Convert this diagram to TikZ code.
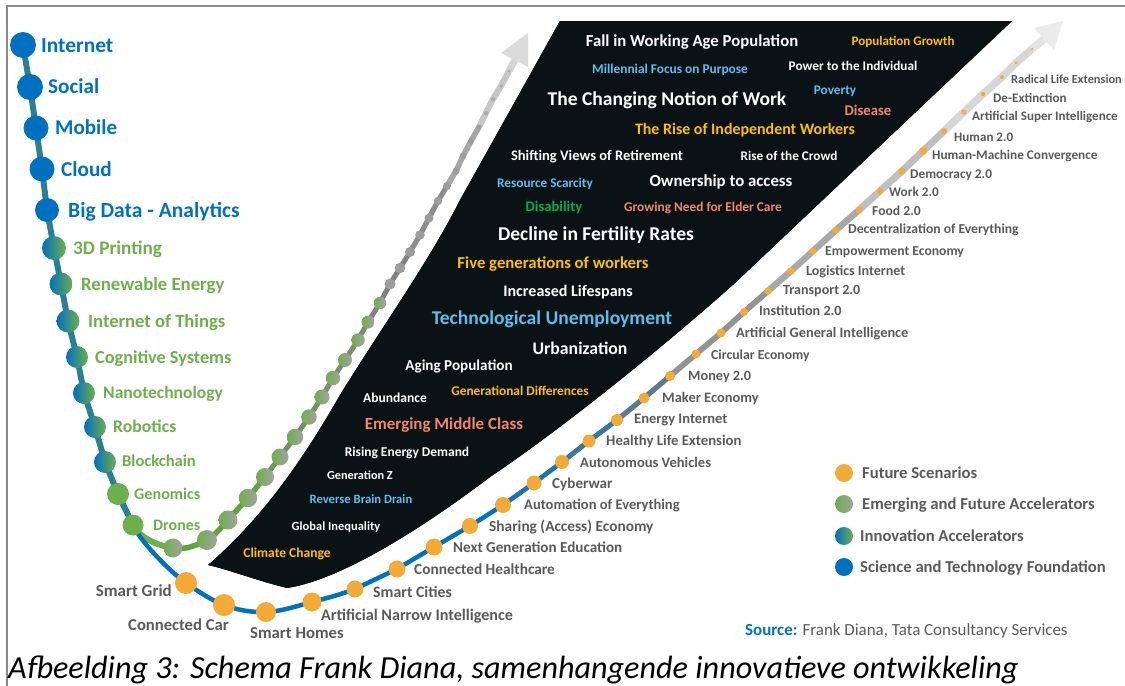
\documentclass[tikz,border=0pt]{standalone}
\usepackage{fontspec}
\setmainfont{Carlito}
\usetikzlibrary{backgrounds}
\definecolor{innblue}{HTML}{0070C0}
\definecolor{inngreen}{HTML}{6DAF4B}
\definecolor{futorange}{HTML}{F4AA36}
\definecolor{emgrey}{HTML}{A3A3A3}
\definecolor{emdark}{HTML}{9C9C9C}
\definecolor{emlight}{HTML}{AAAAAA}
\definecolor{labgrey}{HTML}{595959}
\definecolor{chainteal}{HTML}{2B7F95}
\definecolor{txtgold}{HTML}{FFC000}
\definecolor{txtsky}{HTML}{5BC0EE}
\definecolor{txtsalmon}{HTML}{F3876A}
\definecolor{txtgreen}{HTML}{00B050}
\definecolor{darktop}{HTML}{0B1216}
\definecolor{darkmid}{HTML}{1E2B38}
\definecolor{framegrey}{HTML}{8A8A8A}
\tikzset{
  futdot/.style={circle,inner sep=0pt,draw=none,fill=futorange,minimum size=#1},
  inndot/.style={circle,inner sep=0pt,draw=none,fill=innblue,minimum size=#1},
  mixdot/.style={circle,inner sep=0pt,draw=none,left color=innblue,middle color=innblue!50!inngreen,right color=inngreen,minimum size=#1},
  grndot/.style={circle,inner sep=0pt,draw=none,fill=inngreen,minimum size=#1},
  emgdot/.style={circle,inner sep=0pt,draw=none,left color=inngreen,right color=emgrey,minimum size=#1},
  grydot/.style={circle,inner sep=0pt,draw=none,fill=emdark,minimum size=#1},
  lgtdot/.style={circle,inner sep=0pt,draw=none,fill=emlight,minimum size=#1},
  lbl/.code={\pgfmathsetlengthmacro\lblht{0.66*#1bp}\tikzset{inner sep=0pt,text height=\lblht,text depth=0pt,font=\bfseries\fontsize{#1}{#1}\selectfont}},
  futlbl/.style={lbl=#1,anchor=west,text=labgrey},
  innlbl/.style={lbl=#1,anchor=west,text=innblue},
  grnlbl/.style={lbl=#1,anchor=west,text=inngreen},
}
\begin{document}
\begin{tikzpicture}[>=latex,line join=bevel,yscale=-1]
\useasboundingbox (0bp,0bp) rectangle (1125bp,686bp);
\draw [framegrey,line width=1.5bp] (7bp,686bp) -- (7bp,6bp) -- (1125bp,6bp);
%%
\fill [top color=darktop,middle color=darkmid,bottom color=darktop] (560bp,21bp) -- (1012bp,21bp) -- (735bp,283bp)
  .. controls (660bp,350bp) and (560bp,430bp) .. (490bp,477bp)
  .. controls (420bp,530bp) and (340bp,580bp) .. (287bp,588bp)
  .. controls (255bp,580bp) and (230bp,570bp) .. (208bp,565bp)
  .. controls (260bp,520bp) and (300bp,465bp) .. (340bp,395bp)
  .. controls (380bp,330bp) and (430bp,260bp) .. (460bp,200bp) -- cycle;
%%
\node (inn_0) at (23bp,45bp) [inndot=26bp] {};
  \node (inn_1) at (30bp,87bp) [inndot=26bp] {};
  \node (inn_2) at (36bp,128bp) [inndot=25bp] {};
  \node (inn_3) at (42bp,169bp) [inndot=25bp] {};
  \node (inn_4) at (47bp,210bp) [inndot=24bp] {};
  \node (inn_5) at (54bp,248bp) [mixdot=24bp] {};
  \node (inn_6) at (61bp,284bp) [mixdot=23bp] {};
  \node (inn_7) at (68bp,321bp) [mixdot=23bp] {};
  \node (inn_8) at (77bp,357bp) [mixdot=22bp] {};
  \node (inn_9) at (84bp,393bp) [mixdot=22bp] {};
  \node (inn_10) at (95bp,427bp) [mixdot=22bp] {};
  \node (inn_11) at (105bp,462bp) [mixdot=22bp] {};
  \node (inn_12) at (118bp,494bp) [grndot=22bp] {};
  \node (inn_13) at (133bp,525bp) [grndot=21bp] {};
  \node (inn_0_lbl) at (41bp,45bp) [innlbl=21.5] {Internet};
  \node (inn_1_lbl) at (48bp,87bp) [innlbl=21.2] {Social};
  \node (inn_2_lbl) at (55bp,128bp) [innlbl=21.1] {Mobile};
  \node (inn_3_lbl) at (61bp,169bp) [innlbl=21.3] {Cloud};
  \node (inn_4_lbl) at (68bp,210bp) [innlbl=21.6] {Big Data - Analytics};
  \node (inn_5_lbl) at (73bp,248bp) [grnlbl=19.3] {3D Printing};
  \node (inn_6_lbl) at (81bp,284bp) [grnlbl=18.8] {Renewable Energy};
  \node (inn_7_lbl) at (88bp,321bp) [grnlbl=18.7] {Internet of Things};
  \node (inn_8_lbl) at (95bp,357bp) [grnlbl=18.3] {Cognitive Systems};
  \node (inn_9_lbl) at (103bp,393bp) [grnlbl=17.6] {Nanotechnology};
  \node (inn_10_lbl) at (113bp,427bp) [grnlbl=17.8] {Robotics};
  \node (inn_11_lbl) at (122bp,461bp) [grnlbl=16.6] {Blockchain};
  \node (inn_12_lbl) at (134bp,494bp) [grnlbl=16.2] {Genomics};
  \node (inn_13_lbl) at (153bp,525bp) [grnlbl=16] {Drones};
%%
\node (emg_0) at (173bp,548bp) [emgdot=19bp] {};
  \node (emg_1) at (207bp,540bp) [emgdot=20bp] {};
  \node (emg_2) at (228bp,520bp) [emgdot=19bp] {};
  \node (emg_3) at (248bp,498bp) [emgdot=18.5bp] {};
  \node (emg_4) at (265bp,477bp) [emgdot=18bp] {};
  \node (emg_5) at (280bp,457bp) [emgdot=17bp] {};
  \node (emg_6) at (295bp,437bp) [emgdot=16.5bp] {};
  \node (emg_7) at (309bp,417bp) [emgdot=15.5bp] {};
  \node (emg_8) at (322bp,397bp) [emgdot=15bp] {};
  \node (emg_9) at (333bp,378bp) [emgdot=14.5bp] {};
  \node (emg_10) at (345bp,360bp) [emgdot=14bp] {};
  \node (emg_11) at (358bp,340bp) [emgdot=13.5bp] {};
  \node (emg_12) at (368bp,322bp) [emgdot=13bp] {};
  \node (emg_13) at (380bp,303bp) [emgdot=12.5bp] {};
  \node (emg_14) at (390bp,284bp) [grydot=11bp] {};
  \node (emg_15) at (400bp,268bp) [grydot=10.5bp] {};
  \node (emg_16) at (410bp,252bp) [grydot=10bp] {};
  \node (emg_17) at (420bp,235bp) [grydot=9.5bp] {};
  \node (emg_18) at (429bp,218bp) [grydot=9bp] {};
  \node (emg_19) at (438bp,201bp) [grydot=8.5bp] {};
  \node (emg_20) at (447bp,186bp) [grydot=8bp] {};
  \node (emg_21) at (456bp,171bp) [grydot=7bp] {};
  \node (emg_22) at (463bp,156bp) [grydot=6.5bp] {};
  \node (emg_23) at (471bp,141bp) [grydot=5.5bp] {};
  \node (emg_24) at (479bp,127bp) [grydot=5bp] {};
  \node (emg_25) at (486bp,113bp) [lgtdot=4.5bp] {};
  \node (emg_26) at (493bp,99bp) [lgtdot=4bp] {};
  \node (emg_27) at (501bp,86bp) [lgtdot=3.5bp] {};
  \node (emg_28) at (509bp,71bp) [lgtdot=3bp] {};
  \coordinate (emg_head) at (515bp,60bp);
  \coordinate (emg_tip) at (528bp,33bp);
  \coordinate (emg_wing_a) at (528bp,67bp);
  \coordinate (emg_wing_b) at (501bp,53bp);
%%
\node (fut_0) at (186bp,583bp) [futdot=22bp] {};
  \node (fut_1) at (224bp,605bp) [futdot=22bp] {};
  \node (fut_2) at (266bp,612bp) [futdot=20bp] {};
  \node (fut_3) at (312bp,602bp) [futdot=19bp] {};
  \node (fut_4) at (355bp,589bp) [futdot=17bp] {};
  \node (fut_5) at (397bp,569bp) [futdot=17bp] {};
  \node (fut_6) at (434bp,547bp) [futdot=17bp] {};
  \node (fut_7) at (470bp,526bp) [futdot=16bp] {};
  \node (fut_8) at (503bp,505bp) [futdot=16bp] {};
  \node (fut_9) at (534bp,483bp) [futdot=15bp] {};
  \node (fut_10) at (562bp,462bp) [futdot=14bp] {};
  \node (fut_11) at (589bp,441bp) [futdot=13bp] {};
  \node (fut_12) at (617bp,420bp) [futdot=12bp] {};
  \node (fut_13) at (644bp,398bp) [futdot=11bp] {};
  \node (fut_14) at (670bp,376bp) [futdot=10bp] {};
  \node (fut_15) at (696bp,354bp) [futdot=9bp] {};
  \node (fut_16) at (721bp,333bp) [futdot=9bp] {};
  \node (fut_17) at (744bp,312bp) [futdot=8bp] {};
  \node (fut_18) at (768bp,291bp) [futdot=7.5bp] {};
  \node (fut_19) at (791bp,271bp) [futdot=7.5bp] {};
  \node (fut_20) at (813bp,251bp) [futdot=7bp] {};
  \node (fut_21) at (836bp,230bp) [futdot=7bp] {};
  \node (fut_22) at (859bp,210bp) [futdot=7bp] {};
  \node (fut_23) at (880bp,191bp) [futdot=6bp] {};
  \node (fut_24) at (902bp,171bp) [futdot=7bp] {};
  \node (fut_25) at (923bp,151bp) [futdot=8bp] {};
  \node (fut_26) at (944bp,131bp) [futdot=6bp] {};
  \node (fut_27) at (964bp,112bp) [futdot=5bp] {};
  \node (fut_28) at (983bp,94bp) [futdot=4.5bp] {};
  \node (fut_29) at (1002bp,77bp) [futdot=4bp] {};
  \node (fut_30) at (1016bp,63bp) [futdot=3bp] {};
  \node (fut_31) at (1032bp,49bp) [futdot=2.5bp] {};
  \coordinate (fut_head) at (1044bp,39bp);
  \coordinate (fut_tip) at (1063bp,21bp);
  \coordinate (fut_wing_a) at (1054bp,50bp);
  \coordinate (fut_wing_b) at (1034bp,28bp);
  \node (fut_0_lbl) at (172bp,591bp) [futlbl=17,anchor=east] {Smart Grid};
  \node (fut_1_lbl) at (128bp,625bp) [futlbl=16.7] {Connected Car};
  \node (fut_2_lbl) at (250bp,633bp) [futlbl=16.8] {Smart Homes};
  \node (fut_3_lbl) at (321bp,615bp) [futlbl=16.2] {Artificial Narrow Intelligence};
  \node (fut_4_lbl) at (373bp,592bp) [futlbl=15.9] {Smart Cities};
  \node (fut_5_lbl) at (414bp,569bp) [futlbl=15.4] {Connected Healthcare};
  \node (fut_6_lbl) at (453bp,547bp) [futlbl=15.2] {Next Generation Education};
  \node (fut_7_lbl) at (489bp,526bp) [futlbl=15.4] {Sharing (Access) Economy};
  \node (fut_8_lbl) at (524bp,505bp) [futlbl=14.6] {Automation of Everything};
  \node (fut_9_lbl) at (552bp,483bp) [futlbl=15.2] {Cyberwar};
  \node (fut_10_lbl) at (580bp,463bp) [futlbl=14.6] {Autonomous Vehicles};
  \node (fut_11_lbl) at (606bp,441bp) [futlbl=14.8] {Healthy Life Extension};
  \node (fut_12_lbl) at (634bp,419bp) [futlbl=14.6] {Energy Internet};
  \node (fut_13_lbl) at (662bp,398bp) [futlbl=14.5] {Maker Economy};
  \node (fut_14_lbl) at (688bp,376bp) [futlbl=14.3] {Money 2.0};
  \node (fut_15_lbl) at (711bp,355bp) [futlbl=13.8] {Circular Economy};
  \node (fut_16_lbl) at (736bp,333bp) [futlbl=14.4] {Artificial General Intelligence};
  \node (fut_17_lbl) at (759bp,311bp) [futlbl=14.2] {Institution 2.0};
  \node (fut_18_lbl) at (783bp,290bp) [futlbl=14.1] {Transport 2.0};
  \node (fut_19_lbl) at (806bp,271bp) [futlbl=14.1] {Logistics Internet};
  \node (fut_20_lbl) at (825bp,251bp) [futlbl=13.7] {Empowerment Economy};
  \node (fut_21_lbl) at (848bp,229bp) [futlbl=13.7] {Decentralization of Everything};
  \node (fut_22_lbl) at (872bp,211bp) [futlbl=13.7] {Food 2.0};
  \node (fut_23_lbl) at (889bp,192bp) [futlbl=13.3] {Work 2.0};
  \node (fut_24_lbl) at (910bp,174bp) [futlbl=13.4] {Democracy 2.0};
  \node (fut_25_lbl) at (932bp,155bp) [futlbl=13.3] {Human-Machine Convergence};
  \node (fut_26_lbl) at (954bp,137bp) [futlbl=13.1] {Human 2.0};
  \node (fut_27_lbl) at (972bp,116bp) [futlbl=13.1] {Artificial Super Intelligence};
  \node (fut_28_lbl) at (993bp,98bp) [futlbl=13.2] {De-Extinction};
  \node (fut_29_lbl) at (1011bp,79bp) [futlbl=12.4] {Radical Life Extension};
%%
\node (drv_0) at (692bp,41bp) [lbl=16.8,text=white] {Fall in Working Age Population};
  \node (drv_1) at (903bp,41bp) [lbl=13.1,text=txtgold] {Population Growth};
  \node (drv_2) at (670bp,69bp) [lbl=13.4,text=txtsky] {Millennial Focus on Purpose};
  \node (drv_3) at (853bp,66bp) [lbl=13.3,text=white] {Power to the Individual};
  \node (drv_4) at (667bp,99bp) [lbl=19.6,text=white] {The Changing Notion of Work};
  \node (drv_5) at (835bp,90bp) [lbl=13.3,text=txtsky] {Poverty};
  \node (drv_6) at (868bp,111bp) [lbl=14.8,text=txtsalmon] {Disease};
  \node (drv_7) at (745bp,129bp) [lbl=16,text=txtgold] {The Rise of Independent Workers};
  \node (drv_8) at (597bp,156bp) [lbl=14.6,text=white] {Shifting Views of Retirement};
  \node (drv_9) at (789bp,156bp) [lbl=13.3,text=white] {Rise of the Crowd};
  \node (drv_10) at (545bp,183bp) [lbl=13.3,text=txtsky] {Resource Scarcity};
  \node (drv_11) at (721bp,181bp) [lbl=16.9,text=white] {Ownership to access};
  \node (drv_12) at (554bp,207bp) [lbl=14.7,text=txtgreen] {Disability};
  \node (drv_13) at (703bp,207bp) [lbl=13.4,text=txtsalmon] {Growing Need for Elder Care};
  \node (drv_14) at (596bp,234bp) [lbl=19.6,text=white] {Decline in Fertility Rates};
  \node (drv_15) at (553bp,263bp) [lbl=16.8,text=txtgold] {Five generations of workers};
  \node (drv_16) at (568bp,291bp) [lbl=16.1,text=white] {Increased Lifespans};
  \node (drv_17) at (552bp,318bp) [lbl=19.6,text=txtsky] {Technological Unemployment};
  \node (drv_18) at (580bp,349bp) [lbl=17.8,text=white] {Urbanization};
  \node (drv_19) at (459bp,365bp) [lbl=15.2,text=white] {Aging Population};
  \node (drv_20) at (395bp,398bp) [lbl=13.6,text=white] {Abundance};
  \node (drv_21) at (520bp,391bp) [lbl=13.4,text=txtgold] {Generational Differences};
  \node (drv_22) at (444bp,424bp) [lbl=17,text=txtsalmon] {Emerging Middle Class};
  \node (drv_23) at (407bp,452bp) [lbl=13.5,text=white] {Rising Energy Demand};
  \node (drv_24) at (360bp,475bp) [lbl=12.3,text=white] {Generation Z};
  \node (drv_25) at (361bp,499bp) [lbl=12.7,text=txtsky] {Reverse Brain Drain};
  \node (drv_26) at (336bp,526bp) [lbl=12.5,text=white] {Global Inequality};
  \node (drv_27) at (287bp,553bp) [lbl=13.6,text=txtgold] {Climate Change};
%%
\node (key_0) at (844bp,473bp) [futdot=18bp] {};
  \node (key_1) at (844bp,504bp) [emgdot=18bp] {};
  \node (key_2) at (844bp,536bp) [mixdot=18bp] {};
  \node (key_3) at (844bp,567bp) [inndot=18bp] {};
  \node (key_0_lbl) at (862bp,473bp) [futlbl=16.7] {Future Scenarios};
  \node (key_1_lbl) at (862bp,504bp) [futlbl=16.7] {Emerging and Future Accelerators};
  \node (key_2_lbl) at (860bp,536bp) [futlbl=16.7] {Innovation Accelerators};
  \node (key_3_lbl) at (860bp,567bp) [futlbl=16.7] {Science and Technology Foundation};
  \node (source) at (745bp,631bp) [anchor=west,inner sep=0pt,text=labgrey,font=\fontsize{17}{17}\selectfont] {{\bfseries\color{innblue}Source:} Frank Diana, Tata Consultancy Services};
  \node (caption) at (8bp,678bp) [anchor=base west,inner sep=0pt,font=\itshape\fontsize{32.3}{32.3}\selectfont] {Afbeelding 3: Schema Frank Diana, samenhangende innovatieve ontwikkeling};
%
\begin{pgfonlayer}{background}
\draw [chainteal,line width=6bp] (inn_0.center) -- (inn_1.center) -- (inn_2.center) -- (inn_3.center) -- (inn_4.center) -- (inn_5.center) -- (inn_6.center) -- (inn_7.center) -- (inn_8.center) -- (inn_9.center) -- (inn_10.center) -- (inn_11.center) -- (inn_12.center) -- (inn_13.center);
  \draw [inngreen,line width=6bp] (inn_13.center) ..controls (141bp,540bp) and (161bp,546bp) .. (emg_0.center);
  \draw [innblue,line width=4.5bp] (inn_13.center) ..controls (141bp,543bp) and (173bp,574bp) .. (fut_0.center);
%
\draw [inngreen!92!black,line width=5.5bp] (emg_0.center) ..controls (185bp,550.5bp) and (198bp,544.7bp) .. (emg_1.center) ..controls (216bp,535bp) and (221bp,527bp) .. (emg_2.center) -- (emg_3.center) -- (emg_4.center);
  \draw [inngreen!60!gray!95!black,line width=5bp] (emg_4.center) -- (emg_5.center) -- (emg_6.center) -- (emg_7.center) -- (emg_8.center);
  \draw [inngreen!30!gray,line width=5bp] (emg_8.center) -- (emg_9.center) -- (emg_10.center) -- (emg_11.center) -- (emg_12.center);
  \draw [gray,line width=5bp] (emg_12.center) -- (emg_13.center) -- (emg_14.center) -- (emg_15.center) -- (emg_16.center);
  \draw [gray!90,line width=5.2bp] (emg_16.center) -- (emg_17.center) -- (emg_18.center) -- (emg_19.center) -- (emg_20.center);
  \draw [gray!70,line width=5.6bp] (emg_20.center) -- (emg_21.center) -- (emg_22.center) -- (emg_23.center) -- (emg_24.center);
  \draw [gray!45,line width=6.2bp] (emg_24.center) -- (emg_25.center) -- (emg_26.center) -- (emg_27.center) -- (emg_28.center);
  \draw [gray!34,line width=7bp] (emg_28.center) -- (emg_head);
  \fill [gray!28] (emg_tip) -- (emg_wing_a) -- (emg_wing_b) -- cycle;
%
\draw [innblue,line width=4.5bp] (fut_0.center) ..controls (199bp,592bp) and (211bp,600bp) .. (fut_1.center) ..controls (237bp,610bp) and (251bp,612.5bp) .. (fut_2.center) ..controls (281bp,611.5bp) and (297bp,606bp) .. (fut_3.center) ..controls (327bp,598bp) and (341bp,594.5bp) .. (fut_4.center) -- (fut_5.center) -- (fut_6.center) -- (fut_7.center) -- (fut_8.center);
  \draw [innblue!80!gray,line width=4.7bp] (fut_8.center) -- (fut_9.center) -- (fut_10.center);
  \draw [innblue!55!gray,line width=5bp] (fut_10.center) -- (fut_11.center) -- (fut_12.center);
  \draw [innblue!30!gray,line width=5.3bp] (fut_12.center) -- (fut_13.center) -- (fut_14.center);
  \draw [gray!85,line width=5.8bp] (fut_14.center) -- (fut_15.center) -- (fut_16.center) -- (fut_17.center) -- (fut_18.center);
  \draw [gray!68,line width=6.5bp] (fut_18.center) -- (fut_19.center) -- (fut_20.center) -- (fut_21.center) -- (fut_22.center);
  \draw [gray!50,line width=7bp] (fut_22.center) -- (fut_23.center) -- (fut_24.center) -- (fut_25.center) -- (fut_26.center);
  \draw [gray!32,line width=7.5bp] (fut_26.center) -- (fut_27.center) -- (fut_28.center) -- (fut_29.center) -- (fut_30.center) -- (fut_31.center);
  \draw [gray!22,line width=8bp] (fut_31.center) -- (fut_head);
  \fill [gray!16] (fut_tip) -- (fut_wing_a) -- (fut_wing_b) -- cycle;
\end{pgfonlayer}
%
\end{tikzpicture}
\end{document}
